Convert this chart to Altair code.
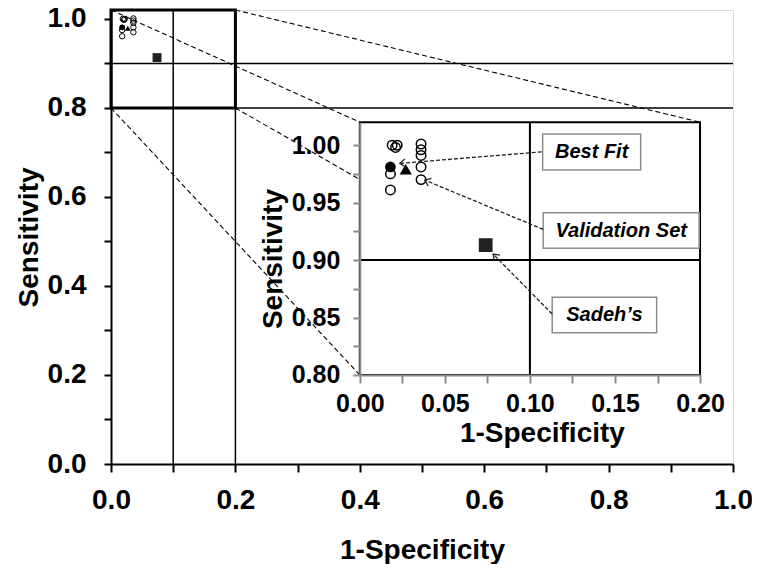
import math
import altair as alt
import pandas as pd

# ---------------- data ----------------
circle_x = [0.019, 0.021, 0.022, 0.036, 0.036, 0.036, 0.036, 0.036, 0.018, 0.018]
circle_y = [1.000, 0.998, 1.000, 1.001, 0.996, 0.991, 0.981, 0.970, 0.975, 0.961]
best_fit = [0.018, 0.981]
validation = [0.027, 0.979]
sadeh = [0.074, 0.913]

main_ticks = [round(i * 0.1, 1) for i in range(11)]
inset_x_ticks = [round(i * 0.025, 3) for i in range(9)]
inset_y_ticks = [round(0.8 + i * 0.025, 3) for i in range(9)]

main_vlines = [0.1, 0.2]
main_hlines = [0.8, 0.9]
inset_vlines = [0.1]
inset_hlines = [0.9]
zoom_box = [0.0, 0.2, 0.8, 1.02]          # x0, x1, y0, y1 (main units)

ann_text = ["Best Fit", "Validation Set", "Sadeh\u2019s"]
ann_box_x0 = [0.1075, 0.1078, 0.1131]
ann_box_x1 = [0.1651, 0.1995, 0.1745]
ann_box_y0 = [0.9783, 0.9102, 0.8368]
ann_box_y1 = [1.0096, 0.9411, 0.8676]
arrow_x0 = [0.1069, 0.1078, 0.1131]
arrow_y0 = [0.9942, 0.9267, 0.8530]
arrow_x1 = [0.0235, 0.0382, 0.0784]
arrow_y1 = [0.9841, 0.9696, 0.9052]

# ---------------- layout ----------------
W, H = 622, 454
MAIN_X = [0, 1.0]
MAIN_Y = [0, 1.02]
INSET_X = [0, 0.2]
INSET_Y = [0.8, 1.02]
# where the inset sits, in main-chart units
IX0, IX1, IY0, IY1 = 0.40, 0.947, 0.20, 0.768

def mx(v):
    return (v - MAIN_X[0]) / (MAIN_X[1] - MAIN_X[0]) * W

def my(v):
    return H - (v - MAIN_Y[0]) / (MAIN_Y[1] - MAIN_Y[0]) * H

inset_xrange = [mx(IX0), mx(IX1)]
inset_yrange = [my(IY0), my(IY1)]

FONT = "Liberation Sans"
GRAY = "#8c8c8c"

# ---------------- main encodings ----------------
main_x_axis = alt.Axis(
    values=main_ticks, labelExpr="round(datum.value*10) % 2 == 0 ? format(datum.value, '.1f') : ''",
    orient="bottom", grid=False, domainColor="black", domainWidth=2, tickColor="black",
    tickWidth=2, tickSize=8, labelFont=FONT, labelFontSize=28, labelFontWeight="bold",
    labelColor="black", labelPadding=14, labelFlush=False, labelOverlap=False,
    title="1-Specificity", titleFont=FONT, titleFontSize=28, titleFontWeight="bold",
    titleColor="black", titlePadding=22, zindex=1)
main_y_axis = alt.Axis(
    values=main_ticks, labelExpr="round(datum.value*10) % 2 == 0 ? format(datum.value, '.1f') : ''",
    orient="left", grid=False, domainColor="black", domainWidth=2, tickColor="black",
    tickWidth=2, tickSize=7, labelFont=FONT, labelFontSize=28, labelFontWeight="bold",
    labelColor="black", labelPadding=18, labelFlush=False, labelOverlap=False,
    title="Sensitivity", titleFont=FONT, titleFontSize=28, titleFontWeight="bold",
    titleColor="black", titlePadding=4, zindex=1)
main_xs = alt.Scale(domain=MAIN_X, nice=False, zero=False)
main_ys = alt.Scale(domain=MAIN_Y, nice=False, zero=False)

def MX(f="x"):
    return alt.X(f"{f}:Q", scale=main_xs, axis=main_x_axis)

def MY(f="y"):
    return alt.Y(f"{f}:Q", scale=main_ys, axis=main_y_axis)

# ---------------- inset encodings ----------------
inset_x_axis = alt.Axis(
    values=inset_x_ticks,
    labelExpr="round(datum.value*1000) % 50 == 0 ? format(datum.value, '.2f') : ''",
    orient="bottom", offset=-(H - inset_yrange[0]), grid=False, domainColor=GRAY,
    domainWidth=2, tickColor=GRAY, tickWidth=2, tickSize=8, labelFont=FONT,
    labelFontSize=25, labelFontWeight="bold", labelColor="black", labelPadding=9,
    labelFlush=False, labelOverlap=False, title="1-Specificity", titleFont=FONT,
    titleFontSize=28, titleFontWeight="bold", titleColor="black", titlePadding=3,
    titleX=(inset_xrange[0] + inset_xrange[1]) / 2 + 12, zindex=2)
inset_y_axis = alt.Axis(
    values=inset_y_ticks,
    labelExpr="round(datum.value*1000) % 50 == 0 ? format(datum.value, '.2f') : ''",
    orient="left", offset=-inset_xrange[0], grid=False, domainColor=GRAY, domainWidth=2,
    tickColor=GRAY, tickWidth=2, tickSize=7, labelFont=FONT, labelFontSize=25,
    labelFontWeight="bold", labelColor="black", labelPadding=13, labelFlush=False,
    labelOverlap=False, title="Sensitivity", titleFont=FONT, titleFontSize=28,
    titleFontWeight="bold", titleColor="black", titlePadding=4,
    titleY=(inset_yrange[0] + inset_yrange[1]) / 2 + 10, zindex=2)
inset_xs = alt.Scale(domain=INSET_X, range=inset_xrange, nice=False, zero=False)
inset_ys = alt.Scale(domain=INSET_Y, range=inset_yrange, nice=False, zero=False)

def IX(f="x"):
    return alt.X(f"{f}:Q", scale=inset_xs, axis=inset_x_axis)

def IY(f="y"):
    return alt.Y(f"{f}:Q", scale=inset_ys, axis=inset_y_axis)

# ---------------- data frames ----------------
circles = pd.DataFrame({"x": circle_x, "y": circle_y})
best_df = pd.DataFrame({"x": [best_fit[0]], "y": [best_fit[1]]})
val_df = pd.DataFrame({"x": [validation[0]], "y": [validation[1]]})
sad_df = pd.DataFrame({"x": [sadeh[0]], "y": [sadeh[1]]})

vl_df = pd.DataFrame({"x": main_vlines, "y": [MAIN_Y[0]] * 2, "y2": [MAIN_Y[1]] * 2})
hl_df = pd.DataFrame({"y": main_hlines, "x": [MAIN_X[0]] * 2, "x2": [MAIN_X[1]] * 2})
box_df = pd.DataFrame({"x": [zoom_box[0]], "x2": [zoom_box[1]], "y": [zoom_box[2]], "y2": [zoom_box[3]]})

# connectors: zoom box corners -> inset corners (in main units)
conn_df = pd.DataFrame({
    "x": [zoom_box[0], zoom_box[1], zoom_box[0], zoom_box[1]],
    "y": [zoom_box[3], zoom_box[3], zoom_box[2], zoom_box[2]],
    "x2": [IX0, IX1, IX0, IX1],
    "y2": [IY1, IY1, IY0, IY0],
})

main_layers = [
    alt.Chart(vl_df).mark_rule(color="black", strokeWidth=1.5).encode(x=MX(), y=MY(), y2="y2:Q"),
    alt.Chart(hl_df).mark_rule(color="black", strokeWidth=1.5).encode(x=MX(), x2="x2:Q", y=MY()),
    alt.Chart(conn_df).mark_rule(color="black", strokeWidth=1.1, strokeDash=[5, 3]).encode(
        x=MX(), x2="x2:Q", y=MY(), y2="y2:Q"),
    alt.Chart(box_df).mark_rect(fillOpacity=0, stroke="black", strokeWidth=3).encode(
        x=MX(), x2="x2:Q", y=MY(), y2="y2:Q"),
    alt.Chart(circles).mark_point(shape="circle", filled=False, color="black", size=30,
                                  strokeWidth=1, opacity=1).encode(x=MX(), y=MY()),
    alt.Chart(best_df).mark_point(shape="circle", filled=True, color="black", size=34,
                                  opacity=1).encode(x=MX(), y=MY()),
    alt.Chart(val_df).mark_point(shape="triangle-up", filled=True, color="black", size=34,
                                 opacity=1).encode(x=MX(), y=MY()),
    alt.Chart(sad_df).mark_point(shape="square", filled=True, color="#222222", size=80,
                                 opacity=1).encode(x=MX(), y=MY()),
]
main = alt.layer(*main_layers)

# ---------------- inset ----------------
ibg_df = pd.DataFrame({"x": [INSET_X[0]], "x2": [INSET_X[1]], "y": [INSET_Y[0]], "y2": [INSET_Y[1]]})
ivl_df = pd.DataFrame({"x": inset_vlines, "y": [INSET_Y[0]], "y2": [INSET_Y[1]]})
ihl_df = pd.DataFrame({"y": inset_hlines, "x": [INSET_X[0]], "x2": [INSET_X[1]]})

sx = (inset_xrange[1] - inset_xrange[0]) / (INSET_X[1] - INSET_X[0])
sy = (inset_yrange[0] - inset_yrange[1]) / (INSET_Y[1] - INSET_Y[0])
angles = [math.degrees(math.atan2(-(y1 - y0) * sy, (x1 - x0) * sx)) % 360
          for x0, y0, x1, y1 in zip(arrow_x0, arrow_y0, arrow_x1, arrow_y1)]

arrow_df = pd.DataFrame({"x": arrow_x0, "y": arrow_y0, "x2": arrow_x1, "y2": arrow_y1})
head_df = pd.DataFrame({"x": arrow_x1, "y": arrow_y1, "angle": angles})
abox_df = pd.DataFrame({"x": ann_box_x0, "x2": ann_box_x1, "y": ann_box_y0, "y2": ann_box_y1})
atext_df = pd.DataFrame({
    "x": [(a + b) / 2 for a, b in zip(ann_box_x0, ann_box_x1)],
    "y": [(a + b) / 2 for a, b in zip(ann_box_y0, ann_box_y1)],
    "t": ann_text,
})

inset_layers = [
    alt.Chart(ibg_df).mark_rect(fill="white", stroke="black", strokeWidth=2).encode(
        x=IX(), x2="x2:Q", y=IY(), y2="y2:Q"),
    alt.Chart(ivl_df).mark_rule(color="black", strokeWidth=2).encode(x=IX(), y=IY(), y2="y2:Q"),
    alt.Chart(ihl_df).mark_rule(color="black", strokeWidth=2).encode(x=IX(), x2="x2:Q", y=IY()),
    alt.Chart(abox_df).mark_rect(fill="white", stroke=GRAY, strokeWidth=1.5).encode(
        x=IX(), x2="x2:Q", y=IY(), y2="y2:Q"),
    alt.Chart(atext_df).mark_text(font=FONT, fontSize=20, fontWeight="bold", fontStyle="italic",
                                  color="black", align="center", baseline="middle").encode(
        x=IX(), y=IY(), text="t:N"),
    alt.Chart(circles).mark_point(shape="circle", filled=False, color="black", size=90,
                                  strokeWidth=1.5, opacity=1).encode(x=IX(), y=IY()),
    alt.Chart(best_df).mark_point(shape="circle", filled=True, color="black", size=115,
                                  opacity=1).encode(x=IX(), y=IY()),
    alt.Chart(val_df).mark_point(shape="triangle-up", filled=True, color="black", size=150,
                                 opacity=1).encode(x=IX(), y=IY()),
    alt.Chart(sad_df).mark_point(shape="square", filled=True, color="#222222", size=190,
                                 opacity=1).encode(x=IX(), y=IY()),
    alt.Chart(arrow_df).mark_rule(color="#222222", strokeWidth=1.3, strokeDash=[4, 2]).encode(
        x=IX(), x2="x2:Q", y=IY(), y2="y2:Q"),
    alt.Chart(head_df).mark_point(shape="M-1,-0.75L0,0L-1,0.75", filled=False, color="#222222",
                                  size=120, strokeWidth=1.3, opacity=1).encode(
        x=IX(), y=IY(), angle=alt.Angle("angle:Q", scale=None)),
]
inset = alt.layer(*inset_layers)

chart = (
    alt.layer(main, inset)
    .resolve_scale(x="independent", y="independent")
    .resolve_axis(x="independent", y="independent")
    .properties(width=W, height=H,
                autosize=alt.AutoSizeParams(type="none"),
                padding={"left": 103, "top": 2, "right": 19, "bottom": 100})
    .configure_view(stroke="black", strokeWidth=2)
    .configure(background="white")
)

chart.save("out.html", embed_options={"renderer": "svg", "actions": False})
